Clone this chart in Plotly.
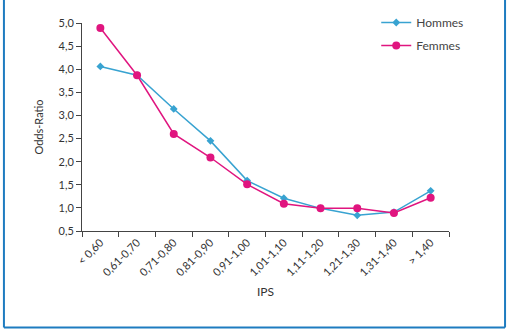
import plotly.graph_objects as go

categories = ["< 0,60", "0,61-0,70", "0,71-0,80", "0,81-0,90", "0,91-1,00",
              "1,01-1,10", "1,11-1,20", "1,21-1,30", "1,31-1,40", "> 1,40"]
hommes = [4.06, 3.87, 3.14, 2.45, 1.59, 1.21, 0.99, 0.84, 0.91, 1.37]
femmes = [4.89, 3.87, 2.60, 2.09, 1.51, 1.09, 0.99, 0.99, 0.89, 1.22]
y_ticks = [0.5, 1.0, 1.5, 2.0, 2.5, 3.0, 3.5, 4.0, 4.5, 5.0]

BLUE = "#38a3d1"
PINK = "#e0157f"
FRAME = "#1e7cc0"
FONT = "Lato"

fig = go.Figure()
fig.add_trace(go.Scatter(x=categories, y=hommes, name="Hommes", mode="lines+markers",
                         line=dict(color=BLUE, width=1.5),
                         marker=dict(symbol="diamond", size=6, color=BLUE),
                         legendgroup="h"))
fig.add_trace(go.Scatter(x=categories, y=femmes, name="Femmes", mode="lines+markers",
                         line=dict(color=PINK, width=1.5),
                         marker=dict(symbol="circle", size=8, color=PINK),
                         legendgroup="f"))

L, R, T, B = 82, 448.7, 23, 231.3
W, H = 509, 336
pw, ph = R - L, B - T

def px(x):
    return (x - L) / pw

def py(y):
    return (B - y) / ph

frame = dict(type="line", xref="paper", yref="paper", line=dict(color=FRAME, width=2))
shapes = [
    dict(frame, x0=px(4), x1=px(4), y0=py(0), y1=py(328)),
    dict(frame, x0=px(504.7), x1=px(504.7), y0=py(0), y1=py(328)),
    dict(frame, x0=px(4), x1=px(504.7), y0=py(328), y1=py(328)),
]

fig.update_layout(
    width=W, height=H,
    margin=dict(l=L, r=W - R, t=T, b=H - B, pad=0, autoexpand=False),
    paper_bgcolor="white", plot_bgcolor="white",
    separators=", ",
    font=dict(family=FONT, size=11, color="#333333"),
    shapes=shapes,
    showlegend=True,
    legend=dict(x=px(376), y=py(8), xanchor="left", yanchor="top",
                font=dict(size=12, color="#444444"), tracegroupgap=4,
                bgcolor="rgba(0,0,0,0)"),
    xaxis=dict(type="category", range=[-0.5, 9.5], tickson="boundaries",
               showline=True, linecolor="#444444", linewidth=1,
               ticks="outside", ticklen=5, tickcolor="#444444",
               tickangle=-45, showgrid=False, zeroline=False, automargin=False,
               tickfont=dict(size=11, color="#333333"),
               title=dict(text="IPS", font=dict(size=12, color="#333333"), standoff=10)),
    yaxis=dict(range=[0.5, 5.0], tickvals=y_ticks, tickformat=".1f",
               showline=True, linecolor="#444444", linewidth=1,
               ticks="outside", ticklen=5, tickcolor="#444444",
               showgrid=False, zeroline=False, automargin=False,
               tickfont=dict(size=11, color="#333333"),
               title=dict(text="Odds-Ratio", font=dict(size=11, color="#333333"), standoff=12)),
)

fig.write_html("out.html")
